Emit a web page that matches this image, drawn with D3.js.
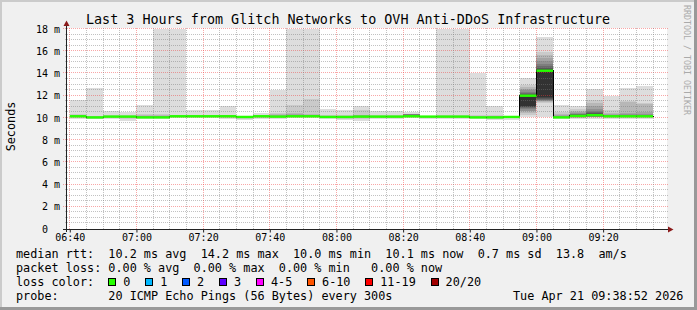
<!DOCTYPE html>
<html>
<head>
<meta charset="utf-8">
<script src="https://cdnjs.cloudflare.com/ajax/libs/d3/7.8.5/d3.min.js"></script>
<style>
  html, body { margin: 0; padding: 0; background: #f0f0f0; }
  svg { display: block; font-family: "DejaVu Sans Mono", monospace; }
  text { white-space: pre; }
</style>
</head>
<body>
<svg id="chart" width="697" height="310"></svg>
<script>
//======
// Data
//======

const title = "Last 3 Hours from Glitch Networks to OVH Anti-DDoS Infrastructure";
const day = "2026-04-21";
const range_start = "06:38:52";
const range_end = "09:38:52";

// one entry per 5 minute step (step start)
const step_start = [
  "06:40", "06:45", "06:50", "06:55", "07:00", "07:05", "07:10", "07:15", "07:20", "07:25",
  "07:30", "07:35", "07:40", "07:45", "07:50", "07:55", "08:00", "08:05", "08:10", "08:15",
  "08:20", "08:25", "08:30", "08:35", "08:40", "08:45", "08:50", "08:55", "09:00", "09:05",
  "09:10", "09:15", "09:20", "09:25", "09:30"
];

const median_ms = [
  10.10, 10.00, 10.07, 10.07, 10.00, 10.00, 10.10, 10.10, 10.10, 10.10,
  10.04, 10.10, 10.07, 10.10, 10.10, 10.04, 10.04, 10.07, 10.07, 10.07,
  10.10, 10.07, 10.07, 10.07, 10.00, 10.00, 10.04, 11.95, 14.20, 10.00,
  10.13, 10.20, 10.10, 10.10, 10.10
];

// lost pings out of 20
const loss_count = [
  0, 0, 0, 0, 0, 0, 0, 0, 0, 0, 0, 0, 0, 0, 0, 0, 0, 0,
  0, 0, 0, 0, 0, 0, 0, 0, 0, 0, 0, 0, 0, 0, 0, 0, 0
];

// the 20 sorted ping times of each step (ms)
const pings_ms = [
  [9.86, 9.97, 10.02, 10.04, 10.05, 10.06, 10.07, 10.08, 10.09, 10.10, 10.10, 10.11, 10.12, 10.13, 10.15, 10.17, 10.20, 10.22, 10.28, 11.60],
  [9.84, 9.90, 9.94, 9.96, 9.97, 9.98, 9.99, 9.99, 10.00, 10.00, 10.00, 10.01, 10.02, 10.03, 10.04, 10.05, 10.07, 10.10, 10.15, 12.67],
  [9.85, 9.95, 10.00, 10.02, 10.03, 10.04, 10.05, 10.06, 10.06, 10.07, 10.07, 10.08, 10.09, 10.10, 10.11, 10.12, 10.14, 10.17, 10.22, 10.61],
  [9.70, 9.90, 9.97, 10.00, 10.02, 10.03, 10.04, 10.05, 10.06, 10.07, 10.07, 10.08, 10.09, 10.10, 10.11, 10.12, 10.14, 10.16, 10.20, 10.52],
  [9.85, 9.92, 9.95, 9.96, 9.97, 9.98, 9.99, 9.99, 10.00, 10.00, 10.00, 10.01, 10.02, 10.04, 10.06, 10.10, 10.15, 10.22, 10.30, 11.15],
  [9.84, 9.92, 9.95, 9.96, 9.97, 9.98, 9.99, 9.99, 10.00, 10.00, 10.00, 10.01, 10.02, 10.04, 10.06, 10.10, 10.15, 10.22, 10.30, 27.40],
  [9.95, 10.00, 10.03, 10.05, 10.06, 10.07, 10.08, 10.09, 10.10, 10.10, 10.10, 10.11, 10.12, 10.13, 10.14, 10.15, 10.17, 10.20, 10.25, 33.80],
  [9.95, 10.00, 10.03, 10.05, 10.06, 10.07, 10.08, 10.09, 10.10, 10.10, 10.10, 10.11, 10.12, 10.13, 10.14, 10.15, 10.17, 10.20, 10.25, 10.70],
  [9.94, 10.00, 10.03, 10.05, 10.06, 10.07, 10.08, 10.09, 10.10, 10.10, 10.10, 10.11, 10.12, 10.13, 10.14, 10.15, 10.17, 10.19, 10.24, 10.70],
  [9.85, 9.96, 10.01, 10.04, 10.05, 10.06, 10.07, 10.08, 10.09, 10.10, 10.10, 10.11, 10.12, 10.13, 10.14, 10.16, 10.18, 10.21, 10.26, 11.06],
  [9.75, 9.85, 9.92, 9.96, 9.98, 9.99, 10.00, 10.01, 10.02, 10.03, 10.04, 10.05, 10.06, 10.07, 10.08, 10.09, 10.10, 10.11, 10.13, 10.16],
  [9.90, 9.98, 10.02, 10.04, 10.05, 10.06, 10.07, 10.08, 10.09, 10.10, 10.10, 10.11, 10.12, 10.13, 10.14, 10.15, 10.17, 10.19, 10.22, 10.38],
  [9.88, 9.97, 10.01, 10.03, 10.04, 10.05, 10.06, 10.06, 10.07, 10.07, 10.07, 10.08, 10.09, 10.11, 10.13, 10.16, 10.20, 10.28, 10.40, 12.43],
  [9.92, 10.00, 10.03, 10.05, 10.06, 10.07, 10.08, 10.09, 10.10, 10.10, 10.10, 10.11, 10.12, 10.14, 10.17, 10.21, 10.28, 10.40, 11.15, 23.60],
  [9.93, 10.00, 10.03, 10.05, 10.06, 10.07, 10.08, 10.09, 10.10, 10.10, 10.10, 10.11, 10.12, 10.13, 10.15, 10.18, 10.23, 10.30, 11.69, 29.10],
  [9.85, 9.94, 9.98, 10.00, 10.01, 10.02, 10.03, 10.03, 10.04, 10.04, 10.04, 10.05, 10.06, 10.07, 10.08, 10.10, 10.13, 10.17, 10.24, 10.79],
  [9.76, 9.90, 9.96, 9.99, 10.00, 10.01, 10.02, 10.03, 10.04, 10.04, 10.04, 10.05, 10.06, 10.07, 10.08, 10.10, 10.12, 10.15, 10.22, 10.70],
  [9.70, 9.88, 9.96, 10.00, 10.02, 10.03, 10.04, 10.05, 10.06, 10.07, 10.07, 10.08, 10.09, 10.10, 10.12, 10.14, 10.18, 10.25, 10.70, 11.00],
  [9.85, 9.95, 10.00, 10.02, 10.03, 10.04, 10.05, 10.06, 10.06, 10.07, 10.07, 10.08, 10.09, 10.10, 10.11, 10.12, 10.14, 10.17, 10.22, 10.61],
  [9.86, 9.96, 10.00, 10.02, 10.03, 10.04, 10.05, 10.06, 10.06, 10.07, 10.07, 10.08, 10.09, 10.10, 10.11, 10.12, 10.14, 10.17, 10.21, 10.61],
  [9.92, 10.00, 10.04, 10.06, 10.07, 10.08, 10.09, 10.09, 10.10, 10.10, 10.10, 10.12, 10.16, 10.22, 10.27, 10.28, 10.29, 10.30, 10.32, 10.52],
  [9.90, 9.98, 10.02, 10.03, 10.04, 10.05, 10.06, 10.06, 10.07, 10.07, 10.07, 10.08, 10.08, 10.09, 10.10, 10.11, 10.12, 10.13, 10.14, 10.16],
  [9.88, 9.97, 10.01, 10.03, 10.04, 10.05, 10.06, 10.06, 10.07, 10.07, 10.07, 10.08, 10.09, 10.10, 10.11, 10.12, 10.14, 10.17, 10.25, 35.20],
  [9.88, 9.97, 10.01, 10.03, 10.04, 10.05, 10.06, 10.06, 10.07, 10.07, 10.07, 10.08, 10.09, 10.10, 10.11, 10.12, 10.14, 10.17, 10.25, 41.00],
  [9.85, 9.92, 9.95, 9.97, 9.98, 9.99, 9.99, 10.00, 10.00, 10.00, 10.00, 10.01, 10.02, 10.03, 10.04, 10.06, 10.08, 10.12, 10.20, 13.99],
  [9.80, 9.90, 9.94, 9.96, 9.97, 9.98, 9.99, 9.99, 10.00, 10.00, 10.00, 10.01, 10.02, 10.03, 10.05, 10.07, 10.10, 10.14, 10.22, 11.00],
  [9.80, 9.92, 9.96, 9.98, 9.99, 10.00, 10.01, 10.02, 10.03, 10.04, 10.04, 10.05, 10.05, 10.06, 10.07, 10.08, 10.09, 10.10, 10.11, 10.12],
  [10.05, 10.20, 10.40, 10.55, 10.62, 10.72, 10.82, 10.90, 10.97, 11.05, 12.00, 12.05, 12.12, 12.20, 12.30, 12.45, 12.60, 12.75, 12.94, 13.54],
  [10.05, 11.30, 11.40, 11.45, 11.50, 11.55, 11.60, 11.66, 11.75, 11.85, 14.25, 14.35, 14.47, 14.62, 14.80, 15.05, 15.33, 15.63, 15.92, 17.27],
  [9.87, 9.93, 9.96, 9.97, 9.98, 9.99, 9.99, 10.00, 10.00, 10.00, 10.00, 10.01, 10.02, 10.04, 10.06, 10.10, 10.18, 10.30, 10.50, 11.12],
  [9.85, 9.95, 9.98, 10.00, 10.02, 10.04, 10.05, 10.06, 10.08, 10.10, 10.15, 10.20, 10.25, 10.30, 10.35, 10.40, 10.50, 10.60, 10.80, 11.06],
  [9.90, 10.00, 10.03, 10.05, 10.06, 10.08, 10.10, 10.12, 10.14, 10.16, 10.25, 10.30, 10.40, 10.50, 10.60, 10.80, 11.00, 11.30, 11.60, 12.55],
  [9.88, 9.97, 10.00, 10.02, 10.04, 10.05, 10.06, 10.07, 10.08, 10.09, 10.11, 10.13, 10.15, 10.18, 10.22, 10.26, 10.30, 10.40, 10.70, 11.90],
  [9.90, 9.98, 10.00, 10.02, 10.04, 10.05, 10.06, 10.07, 10.08, 10.09, 10.11, 10.13, 10.15, 10.20, 10.25, 10.30, 10.40, 11.40, 11.45, 12.64],
  [9.90, 9.98, 10.00, 10.02, 10.04, 10.05, 10.06, 10.07, 10.08, 10.09, 10.11, 10.13, 10.15, 10.20, 10.25, 10.30, 10.50, 11.25, 11.30, 12.85]
];

const y_ticks = [0, 2, 4, 6, 8, 10, 12, 14, 16, 18];

const loss_labels = ["0", "1", "2", "3", "4-5", "6-10", "11-19", "20/20"];
const loss_upper = [0, 1, 2, 3, 5, 10, 19, 20];
const loss_colors = ["#26ff00", "#00b8ff", "#0059ff", "#5e00ff", "#ff00ff", "#ff5500", "#ff0000", "#a10000"];

// avg, max, min, now, sd, am/s
const rtt_stats = ["10.2", "14.2", "10.0", "10.1", "0.7", "13.8"];
// avg, max, min, now
const loss_stats = ["0.00", "0.00", "0.00", "0.00"];
const probe_text = "20 ICMP Echo Pings (56 Bytes) every 300s";
const stamp_text = "Tue Apr 21 09:38:52 2026";

//=======
// Chart
//=======

const parseT = d3.timeParse("%Y-%m-%d %H:%M:%S");
const at = s => parseT(day + " " + (s.length === 5 ? s + ":00" : s));

const svg = d3.select("#chart");
const W = 697, H = 310;
const X0 = 66, X1 = 666;
const cw = 7.1; // legend char advance

const x = d3.scaleTime()
  .domain([at(range_start), at(range_end)])
  .range([X0, X1]);
const y = d3.scaleLinear()
  .domain([0, 18])
  .range([228.5, 28.5]);

const steps = step_start.map((s, i) => ({
  t0: at(s),
  t1: d3.timeMinute.offset(at(s), 5),
  med: median_ms[i],
  loss: loss_count[i],
  pings: pings_ms[i]
}));

// background + canvas
svg.append("rect").attr("width", W).attr("height", H).attr("fill", "#f0f0f0");
svg.append("rect").attr("x", X0).attr("y", 28).attr("width", X1 - X0 + 1).attr("height", 201).attr("fill", "#fff");

// smoke: layer k spans ping k .. ping 21-k
const smoke = svg.append("g").attr("shape-rendering", "crispEdges");
steps.forEach(d => {
  for (let k = 0; k < 10; k++) {
    const lo = d.pings[k], hi = Math.min(d.pings[19 - k], 18);
    const g = Math.floor(190 / 10 * (10 - (k + 1))) + 50;
    smoke.append("rect")
      .attr("x", x(d.t0))
      .attr("width", x(d.t1) - x(d.t0))
      .attr("y", y(hi))
      .attr("height", Math.max(0, y(lo) - y(hi)))
      .attr("fill", d3.rgb(g, g, g));
  }
});

// grid
const grid = svg.append("g").attr("shape-rendering", "crispEdges").attr("stroke-width", 1);
const snap = v => Math.floor(v) + 0.5;
d3.range(0.5, 18, 0.5).filter(v => v % 2 !== 0).forEach(v => {
  grid.append("line").attr("x1", X0 - 1).attr("x2", X1 + 2).attr("y1", snap(y(v))).attr("y2", snap(y(v)))
    .attr("stroke", "rgba(120,120,120,0.45)").attr("stroke-dasharray", "1,1");
});
y_ticks.filter(v => v > 0).forEach(v => {
  grid.append("line").attr("x1", X0 - 3).attr("x2", X1 + 2).attr("y1", snap(y(v))).attr("y2", snap(y(v)))
    .attr("stroke", "rgba(240,60,60,0.45)").attr("stroke-dasharray", "1,1");
});
d3.timeMinute.every(5).range(at(range_start), at(range_end)).forEach(t => {
  const major = t.getMinutes() % 20 === 0;
  grid.append("line").attr("x1", snap(x(t))).attr("x2", snap(x(t))).attr("y1", 28).attr("y2", 229)
    .attr("stroke", major ? "rgba(240,60,60,0.45)" : "rgba(120,120,120,0.45)")
    .attr("stroke-dasharray", "1,1");
});

// median: dark step line, then loss coloured band
const medLine = d3.line().curve(d3.curveStepAfter).x(d => snap(x(d.t))).y(d => y(d.v));
const medPts = steps.map(d => ({t: d.t0, v: d.med}))
  .concat([{t: steps[steps.length - 1].t1, v: steps[steps.length - 1].med}]);
svg.append("path").attr("d", medLine(medPts)).attr("fill", "none")
  .attr("stroke", "#000").attr("stroke-width", 1).attr("shape-rendering", "crispEdges");

const lossColor = c => loss_colors[loss_upper.findIndex(u => c <= u)];
svg.append("g").selectAll("rect").data(steps).join("rect")
  .attr("x", d => x(d.t0))
  .attr("width", d => x(d.t1) - x(d.t0))
  .attr("y", d => y(d.med) - 1.2)
  .attr("height", 2.4)
  .attr("fill", d => lossColor(d.loss));

// axes
const xAxis = svg.append("g").attr("transform", "translate(0,229.5)")
  .call(d3.axisBottom(x).ticks(d3.timeMinute.every(20)).tickSize(3).tickFormat(d3.timeFormat("%H:%M")));
xAxis.select(".domain").remove();
xAxis.attr("font-family", null).attr("font-size", null);
xAxis.selectAll("line").attr("stroke", "#222");
xAxis.selectAll("text").attr("y", 11.5).attr("dy", null).attr("font-size", "10px").attr("fill", "#000");

const yAxis = svg.append("g").attr("transform", "translate(" + X0 + ",0)")
  .call(d3.axisLeft(y).tickValues(y_ticks).tickSize(0).tickPadding(6).tickFormat(v => v ? v + " m" : "0"));
yAxis.select(".domain").remove();
yAxis.attr("font-family", null).attr("font-size", null);
yAxis.selectAll("text").attr("dy", "0.37em").attr("font-size", "10px").attr("fill", "#000")
  .filter(v => v === 0).attr("x", -18);

const axes = svg.append("g").attr("shape-rendering", "crispEdges");
axes.append("line").attr("x1", 63).attr("x2", 669).attr("y1", 229.5).attr("y2", 229.5).attr("stroke", "#222");
axes.append("line").attr("x1", 66.5).attr("x2", 66.5).attr("y1", 232).attr("y2", 25).attr("stroke", "#222");
svg.append("path").attr("d", "M668,226.5L673.5,229.5L668,232.5Z").attr("fill", "#8b1a1a");
svg.append("path").attr("d", "M63.5,26L66.5,20.5L69.5,26Z").attr("fill", "#8b1a1a");

// title and labels
svg.append("text").attr("x", 348).attr("y", 24).attr("text-anchor", "middle")
  .attr("font-size", "13.4px").attr("fill", "#000").text(title);
svg.append("text").attr("transform", "translate(15,126.5) rotate(-90)").attr("text-anchor", "middle")
  .attr("font-size", "11.8px").attr("fill", "#000").text("Seconds");
svg.append("text").attr("transform", "translate(684,5) rotate(90)")
  .attr("font-size", "8.3px").attr("fill", "#aaa").text("RRDTOOL / TOBI OETIKER");

// legend
const leg = svg.append("g").attr("font-size", "11.8px").attr("fill", "#000");
const r = rtt_stats, l = loss_stats;
leg.append("text").attr("x", 16).attr("y", 257.7)
  .text(`median rtt:  ${r[0]} ms avg  ${r[1]} ms max  ${r[2]} ms min  ${r[3]} ms now  ${r[4]} ms sd  ${r[5]}  am/s`);
leg.append("text").attr("x", 16).attr("y", 271.8)
  .text(`packet loss: ${l[0]} % avg  ${l[1]} % max  ${l[2]} % min   ${l[3]} % now`);
leg.append("text").attr("x", 16).attr("y", 285.9).text("loss color:");
let lx = 16 + 13 * cw;
loss_labels.forEach((lab, i) => {
  leg.append("rect").attr("x", Math.round(lx) + 0.5).attr("y", 278.5).attr("width", 7).attr("height", 7)
    .attr("fill", loss_colors[i]).attr("stroke", "#000").attr("shape-rendering", "crispEdges");
  const t = leg.append("text").attr("x", lx + 15).attr("y", 285.9).text(lab);
  lx += 15 + t.node().getComputedTextLength() + 14.8;
});
leg.append("text").attr("x", 16).attr("y", 300).text("probe:       " + probe_text);
leg.append("text").attr("x", 16 + 70 * cw).attr("y", 300).text(stamp_text);

// frame
svg.append("rect").attr("x", 0).attr("y", 0).attr("width", W).attr("height", 2).attr("fill", "#cbcbcb");
svg.append("rect").attr("x", 0).attr("y", 0).attr("width", 2).attr("height", H).attr("fill", "#cbcbcb");
svg.append("rect").attr("x", 0).attr("y", H - 3).attr("width", W).attr("height", 3).attr("fill", "#999");
svg.append("rect").attr("x", W - 3).attr("y", 0).attr("width", 3).attr("height", H).attr("fill", "#999");
</script>
</body>
</html>
